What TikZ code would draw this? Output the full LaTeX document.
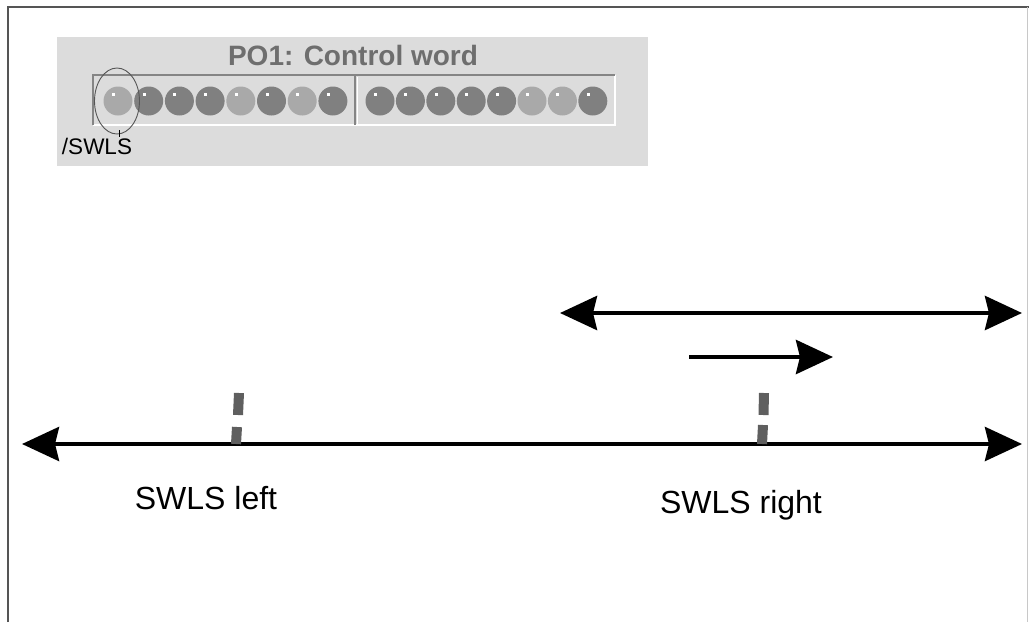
\documentclass[tikz,border=0pt]{standalone}
\usepackage{fontspec}
\setmainfont{Liberation Sans}
\usetikzlibrary{arrows.meta,shapes.geometric}
\definecolor{panelbg}{HTML}{DCDCDC}
\definecolor{ledD}{HTML}{808080}
\definecolor{ledL}{HTML}{A9A9A9}
\definecolor{titlegray}{HTML}{6E6E6E}
\definecolor{bevel}{HTML}{858585}
\definecolor{framedark}{HTML}{555555}
\definecolor{framelight}{HTML}{C8C8C8}
\definecolor{marker}{HTML}{5F5F5F}
\begin{document}
\begin{tikzpicture}[x=1pt,y=-1pt,
  led/.style={circle,fill=led#1,inner sep=0pt,minimum size=29pt},
  bigarrow/.style={line width=4.5pt,-{Stealth[length=37pt,width=34pt,inset=4pt]}},
  markerbar/.style={draw=marker,line width=10pt},
  caption/.style={font=\fontsize{32}{36}\selectfont,inner sep=0pt}
]
\useasboundingbox (0,0) rectangle (1029,622);

% outer frame
\draw[framedark,line width=1.5pt] (8,622) -- (8,7) -- (1029,7);
\draw[framelight,line width=1pt] (1027,7) -- (1027,622);

% control word panel
\fill[panelbg] (57,37) rectangle (648,166);
\node[text=titlegray,font=\bfseries\fontsize{28}{30}\selectfont,inner sep=0pt] (title) at (353,55) {PO1: Control word};

% sunken LED strip
\draw[white,line width=2pt] (93,125) -- (615,125) -- (615,75);
\draw[bevel,line width=2pt] (93,125) -- (93,75) -- (615,75);
\draw[bevel,line width=2pt] (355,125) -- (355,75);
\draw[white,line width=1.5pt] (357.5,124) -- (357.5,77);

% LED bits, first byte
\foreach \c [count=\i from 0] in {L,D,D,D,L,D,L,D}{
  \pgfmathsetmacro\xx{118+30.7*\i}
  \node[led=\c] (a\i) at (\xx,101) {};
  \fill[white] (\xx-6,93) rectangle (\xx-3,96);
}
% LED bits, second byte
\foreach \c [count=\i from 0] in {D,D,D,D,D,L,L,D}{
  \pgfmathsetmacro\xx{380+30.4*\i}
  \node[led=\c] (b\i) at (\xx,101) {};
  \fill[white] (\xx-6,93) rectangle (\xx-3,96);
}

% marking of the /SWLS bit
\node[draw=framedark,line width=0.9pt,ellipse,minimum width=45pt,minimum height=66pt,inner sep=0pt] (ring) at (117,101) {};
\draw[black,line width=0.9pt] ([yshift=4pt,xshift=2pt]ring.south) -- ([yshift=-3pt,xshift=2pt]ring.south);
\node[font=\fontsize{22.5}{24}\selectfont,inner sep=0pt] (swls) at (97,146) {/SWLS};

% travel range and direction
\coordinate (rangeL) at (560,313);
\coordinate (rangeR) at (1022,313);
\draw[bigarrow,{Stealth[length=37pt,width=34pt,inset=4pt]}-{Stealth[length=37pt,width=34pt,inset=4pt]}] (rangeL) -- (rangeR);
\coordinate (dirS) at (689,357);
\coordinate (dirE) at (833,357);
\draw[bigarrow] (dirS) -- (dirE);

% axis
\coordinate (axisL) at (22,444);
\coordinate (axisR) at (1022,444);
\draw[line width=4pt,{Stealth[length=37pt,width=34pt,inset=4pt]}-{Stealth[length=37pt,width=34pt,inset=4pt]}] (axisL) -- (axisR);

% limit switch positions
\draw[markerbar] (239,393) -- (238,415);
\draw[markerbar] (237,427) -- (236,444);
\draw[markerbar] (764,393) -- (763.5,415);
\draw[markerbar] (763,425) -- (762,444);

\node[caption] (leftlbl) at (206,498) {SWLS left};
\node[caption] (rightlbl) at (741,505) {SWLS right};
\end{tikzpicture}
\end{document}
